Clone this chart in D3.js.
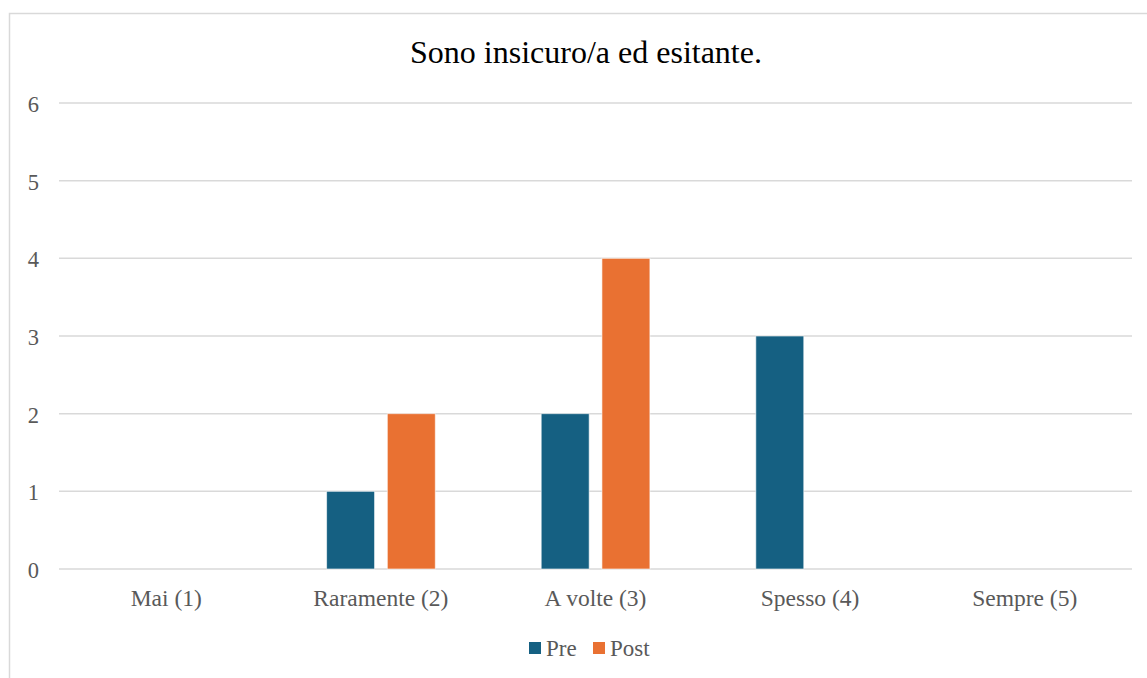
<!DOCTYPE html>
<html>
<head>
<meta charset="utf-8">
<script src="https://cdn.jsdelivr.net/npm/d3@7"></script>
<style>
  body { margin: 0; background: #fff; }
  svg { display: block; }
  text { font-family: 'Liberation Serif', 'Times New Roman', Times, serif; }
</style>
</head>
<body>
<svg id="canvas" width="1147" height="678"></svg>
<script>
// chart data
const categories = ['Mai (1)', 'Raramente (2)', 'A volte (3)', 'Spesso (4)', 'Sempre (5)']
const seriesNames = ['Pre', 'Post']
const preValues = [0, 1, 2, 3, 0]
const postValues = [0, 2, 4, 0, 0]
const yTicks = [0, 1, 2, 3, 4, 5, 6]

const colors = { Pre: '#156082', Post: '#E97132' }

let canvas = d3.select('#canvas')

// outer chart border (runs off the right and bottom edges)
canvas.append('rect')
    .attr('x', 9.5)
    .attr('y', 13.5)
    .attr('width', 1160)
    .attr('height', 700)
    .attr('fill', 'none')
    .attr('stroke', '#d9d9d9')
    .attr('stroke-width', 1.5)

let plot = { left: 59, right: 1132, top: 103, bottom: 569 }

let x0 = d3.scaleBand()
    .domain(categories)
    .range([plot.left, plot.right])

let x1 = d3.scaleBand()
    .domain(seriesNames)
    .range([53, 161.7])
    .paddingInner(0.21)

let y = d3.scaleLinear()
    .domain([0, 6])
    .range([plot.bottom, plot.top])

// gridlines
canvas.append('g')
    .selectAll('line')
    .data(yTicks)
    .enter()
    .append('line')
    .attr('x1', plot.left)
    .attr('x2', plot.right)
    .attr('y1', (d) => y(d))
    .attr('y2', (d) => y(d))
    .attr('stroke', '#d9d9d9')
    .attr('stroke-width', 1.5)

// y tick labels
canvas.append('g')
    .selectAll('text')
    .data(yTicks)
    .enter()
    .append('text')
    .attr('x', 39)
    .attr('y', (d) => y(d) + 9)
    .attr('text-anchor', 'end')
    .attr('font-size', 22.5)
    .attr('fill', '#595959')
    .text((d) => d)

// bars
let rows = categories.map((c, i) => ({ category: c, Pre: preValues[i], Post: postValues[i] }))

let groups = canvas.append('g')
    .selectAll('g')
    .data(rows)
    .enter()
    .append('g')
    .attr('transform', (d) => 'translate(' + x0(d.category) + ',0)')

groups.selectAll('rect')
    .data((d) => seriesNames.map((s) => ({ series: s, value: d[s] })))
    .enter()
    .filter((d) => d.value > 0)
    .append('rect')
    .attr('x', (d) => x1(d.series))
    .attr('y', (d) => y(d.value))
    .attr('width', x1.bandwidth())
    .attr('height', (d) => y(0) - y(d.value))
    .attr('fill', (d) => colors[d.series])
    .attr('stroke', '#ffffff')
    .attr('stroke-opacity', 0.6)
    .attr('stroke-width', 1)

// x labels
canvas.append('g')
    .selectAll('text')
    .data(categories)
    .enter()
    .append('text')
    .attr('x', (d) => x0(d) + x0.bandwidth() / 2)
    .attr('y', 606)
    .attr('text-anchor', 'middle')
    .attr('font-size', 23.5)
    .attr('fill', '#595959')
    .text((d) => d)

// title
canvas.append('text')
    .attr('x', 586)
    .attr('y', 63)
    .attr('text-anchor', 'middle')
    .attr('font-size', 32)
    .attr('fill', '#000000')
    .text('Sono insicuro/a ed esitante.')

// legend
let legendItems = [{ name: 'Pre', x: 529 }, { name: 'Post', x: 593 }]
let legend = canvas.append('g')
    .selectAll('g')
    .data(legendItems)
    .enter()
    .append('g')
    .attr('transform', (d) => 'translate(' + d.x + ',642)')

legend.append('rect')
    .attr('width', 12)
    .attr('height', 12)
    .attr('fill', (d) => colors[d.name])

legend.append('text')
    .attr('x', 17)
    .attr('y', 14)
    .attr('font-size', 23)
    .attr('fill', '#595959')
    .text((d) => d.name)
</script>
</body>
</html>
